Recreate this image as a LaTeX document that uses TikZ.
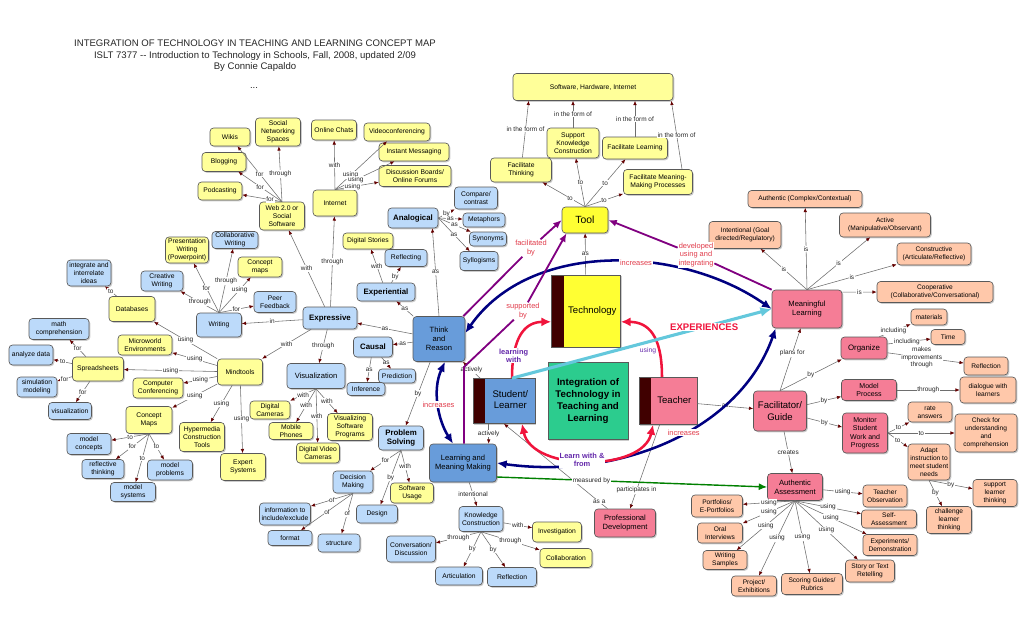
\documentclass[tikz,border=0pt]{standalone}
\usepackage{fontspec}
\setmainfont{Liberation Sans}
\usetikzlibrary{arrows.meta,positioning,shadows,calc}

\definecolor{ylwc}{RGB}{255,255,153}
\definecolor{techc}{RGB}{255,255,51}
\definecolor{bluc}{RGB}{188,218,250}
\definecolor{deepc}{RGB}{104,156,218}
\definecolor{pinkc}{RGB}{245,125,150}
\definecolor{peachc}{RGB}{255,200,170}
\definecolor{hubc}{RGB}{44,204,142}
\definecolor{barc}{RGB}{64,0,0}
\definecolor{navyc}{RGB}{0,0,128}
\definecolor{purpc}{RGB}{128,0,128}
\definecolor{redc}{RGB}{240,20,60}
\definecolor{cyanc}{RGB}{100,200,220}
\definecolor{greenl}{RGB}{0,128,0}
\definecolor{linec}{RGB}{110,110,110}
\definecolor{tipc}{RGB}{100,0,0}
\definecolor{redtxt}{RGB}{225,60,75}
\definecolor{purptxt}{RGB}{100,40,170}

\newcommand{\boxfont}{\fontsize{4.8}{5.7}\selectfont}
\newcommand{\lblfont}{\fontsize{4.6}{5.4}\selectfont}
\newcommand{\barTxt}[1]{\hspace*{9pt}\begin{tabular}{@{}c@{}}#1\end{tabular}}

\begin{document}
\begin{tikzpicture}[x=0.025cm,y=-0.025cm,>=Latex,
  sz/.style 2 args={minimum width=#1*0.025cm,minimum height=#2*0.025cm},
  shapebase/.style={draw=black!65,line width=0.45pt,inner sep=1pt,
    drop shadow={shadow xshift=0.9pt,shadow yshift=-0.9pt,opacity=0.4}},
  concept/.style={shapebase,rounded corners=2.5pt,align=center,font=\boxfont},
  yellowbox/.style={concept,fill=ylwc},
  bluebox/.style={concept,fill=bluc},
  deepbox/.style={concept,fill=deepc,font=\fontsize{5.4}{6.3}\selectfont},
  pinkbox/.style={concept,fill=pinkc,font=\fontsize{5.4}{6.3}\selectfont},
  peachbox/.style={concept,fill=peachc,font=\fontsize{4.7}{5.6}\selectfont},
  hd/.style={font=\bfseries\fontsize{5.6}{6.6}\selectfont},
  barbox/.style={shapebase,font=\fontsize{6.8}{8}\selectfont,
    path picture={\fill[barc] (path picture bounding box.south west)
      rectangle ([xshift=0.3cm]path picture bounding box.north west);}},
  titletxt/.style={align=center,font=\fontsize{6.8}{8.2}\selectfont,text=black!85},
  lnk/.style={draw=linec,line width=0.4pt,-{Latex[length=3pt,width=2.5pt,color=tipc]}},
  lbl/.style={fill=white,inner sep=0.5pt,font=\lblfont,text=black!85,align=center},
  redlbl/.style={fill=white,inner sep=0.5pt,font=\fontsize{5.3}{6}\selectfont,text=redtxt,align=center},
  purlbl/.style={fill=white,inner sep=0.5pt,font=\bfseries\fontsize{5.3}{6}\selectfont,text=purptxt,align=center},
  navyarc/.style={draw=navyc,line width=1.8pt,{Latex[length=7pt,width=6pt]}-{Latex[length=7pt,width=6pt]}},
  purpleline/.style={draw=purpc,line width=1.3pt},
  purplehead/.style={purpleline,-{Latex[length=6pt,width=5pt]}},
  redarc/.style={draw=redc,line width=1.8pt,-{Latex[length=7pt,width=6.5pt]}},
  cyanline/.style={draw=cyanc,line width=2.2pt,-{Latex[length=8pt,width=7pt]}},
  greenline/.style={draw=greenl,line width=1pt,-{Latex[length=6pt,width=5pt]}}]
  \useasboundingbox (0,0) rectangle (1024,624);

  % heading
  \node[titletxt] (title) at (255,56) {INTEGRATION OF TECHNOLOGY IN TEACHING AND LEARNING CONCEPT MAP\\ISLT 7377 -{}- Introduction to Technology in Schools, Fall, 2008, updated 2/09\\By Connie Capaldo};
  \node[titletxt] (dots) at (254,88) {...};

  % core
  \node[barbox,fill=techc,sz={69}{72}] (technology) at (586,311) {\barTxt{Technology}};
  \node[barbox,fill=deepc,sz={62}{45}] (student) at (504,401) {\barTxt{Student/\\Learner}};
  \node[barbox,fill=pinkc,sz={58}{47}] (teacher) at (668,401) {\barTxt{Teacher}};
  \node[shapebase,fill=hubc,align=center,sz={80}{77},font=\bfseries\fontsize{6.9}{8.4}\selectfont] (hub) at (588,401) {Integration of\\Technology in\\Teaching and\\Learning};
  \node[yellowbox,fill=techc,sz={46}{26},font=\fontsize{7.4}{8}\selectfont] (tool) at (585,220) {Tool};
  \node[deepbox,sz={52}{45}] (tr) at (439,339) {Think\\and\\Reason};
  \node[deepbox,sz={67}{38}] (lmm) at (463,463) {Learning and\\Meaning Making};

  % tool uses
  \node[yellowbox,sz={160}{27}] (shi) at (593,87) {Software, Hardware, Internet};
  \node[yellowbox,sz={52}{30}] (skc) at (573,143) {Support\\Knowledge\\Construction};
  \node[yellowbox,sz={65}{22}] (flearn) at (635,148) {Facilitate Learning};
  \node[yellowbox,sz={61}{24}] (fthink) at (521,170) {Facilitate\\Thinking};
  \node[yellowbox,sz={69}{25}] (fmmp) at (658,182) {Facilitate Meaning-\\Making Processes};

  % web and internet
  \node[yellowbox,sz={40}{18}] (wikis) at (230,137) {Wikis};
  \node[yellowbox,sz={45}{28}] (social) at (278,132) {Social\\Networking\\Spaces};
  \node[yellowbox,sz={44}{19}] (blogging) at (224,162) {Blogging};
  \node[yellowbox,sz={44}{18}] (podcast) at (220,191) {Podcasting};
  \node[yellowbox,sz={45}{28}] (web) at (282,216) {Web 2.0 or\\Social\\Software};
  \node[yellowbox,sz={45}{20}] (chats) at (334,130) {Online Chats};
  \node[yellowbox,sz={66}{18}] (video) at (397,132) {Videoconferencing};
  \node[yellowbox,sz={70}{18}] (instant) at (414,152) {Instant Messaging};
  \node[yellowbox,sz={72}{21}] (forums) at (415,176) {Discussion Boards/\\Online Forums};
  \node[yellowbox,sz={44}{26}] (internet) at (335,203) {Internet};

  % ways of thinking
  \node[bluebox,hd,sz={50}{20}] (analog) at (413,218) {Analogical};
  \node[bluebox,sz={43}{22}] (compare) at (476,198) {Compare/\\contrast};
  \node[bluebox,sz={42}{14}] (metaph) at (484,220) {Metaphors};
  \node[bluebox,sz={37}{14}] (synon) at (488,239) {Synonyms};
  \node[bluebox,sz={38}{19}] (syllog) at (479,261) {Syllogisms};
  \node[yellowbox,sz={50}{16}] (stories) at (368,241) {Digital Stories};
  \node[bluebox,sz={42}{17}] (reflecting) at (406,258) {Reflecting};
  \node[bluebox,hd,sz={58}{18}] (experi) at (386,292) {Experiential};
  \node[bluebox,hd,sz={39}{20}] (causal) at (373,347) {Causal};
  \node[bluebox,sz={37}{14}] (predict) at (397,376) {Prediction};
  \node[bluebox,sz={38}{13}] (infer) at (366,389) {Inference};
  \node[bluebox,hd,sz={54}{22}] (express) at (330,318) {Expressive};
  \node[bluebox,sz={58}{25},font=\fontsize{5.4}{6.3}\selectfont] (visual) at (316,376) {Visualization};
  \node[bluebox,hd,sz={45}{24}] (probsolv) at (401,438) {Problem\\Solving};

  % visualization
  \node[yellowbox,sz={40}{18}] (dcam) at (270,410) {Digital\\Cameras};
  \node[yellowbox,sz={44}{17}] (phones) at (291,431) {Mobile\\Phones};
  \node[yellowbox,sz={43}{20}] (dvcam) at (318,453) {Digital Video\\Cameras};
  \node[yellowbox,sz={45}{27}] (vissoft) at (350,427) {Visualizing\\Software\\Programs};

  % problem solving
  \node[bluebox,sz={40}{22}] (decision) at (353,482) {Decision\\Making};
  \node[yellowbox,sz={43}{20}] (usage) at (412,493) {Software\\Usage};
  \node[bluebox,sz={41}{18}] (design) at (377,514) {Design};
  \node[bluebox,sz={51}{22}] (inclexcl) at (285,514) {information to\\include/exclude};
  \node[bluebox,sz={44}{15}] (format) at (290,538) {format};
  \node[bluebox,sz={42}{18}] (structure) at (339,543) {structure};

  % knowledge construction
  \node[bluebox,sz={44}{25}] (kc) at (481,519) {Knowledge\\Construction};
  \node[yellowbox,sz={49}{20}] (invest) at (557,532) {Investigation};
  \node[yellowbox,sz={52}{19}] (collab) at (566,558) {Collaboration};
  \node[bluebox,sz={49}{26}] (convdisc) at (411,549) {Conversation/\\Discussion};
  \node[bluebox,sz={47}{18}] (artic) at (459,576) {Articulation};
  \node[bluebox,sz={49}{19}] (reflection) at (512,577) {Reflection};

  % writing and mindtools
  \node[yellowbox,sz={43}{26}] (pres) at (187,250) {Presentation\\Writing\\(Powerpoint)};
  \node[bluebox,sz={46}{17}] (collwrit) at (235,240) {Collaborative\\Writing};
  \node[yellowbox,sz={44}{20}] (cmaps) at (260,267) {Concept\\maps};
  \node[bluebox,sz={42}{20}] (creative) at (162,281) {Creative\\Writing};
  \node[bluebox,sz={42}{21}] (peer) at (275,302) {Peer\\Feedback};
  \node[bluebox,sz={45}{24}] (writing) at (219,325) {Writing};
  \node[bluebox,sz={44}{26}] (integ) at (89,273) {integrate and\\interrelate\\ideas};
  \node[yellowbox,sz={46}{25}] (databases) at (132,309) {Databases};
  \node[yellowbox,sz={54}{20}] (microworld) at (145,345) {Microworld\\Environments};
  \node[yellowbox,sz={51}{24}] (spread) at (98,369) {Spreadsheets};
  \node[yellowbox,sz={45}{26}] (mindtools) at (240,372) {Mindtools};
  \node[yellowbox,sz={50}{20}] (conf) at (158,388) {Computer\\Conferencing};
  \node[bluebox,sz={60}{21}] (math) at (59,329) {math\\comprehension};
  \node[bluebox,sz={44}{20}] (analyze) at (31,355) {analyze data};
  \node[bluebox,sz={40}{20}] (simul) at (37,387) {simulation\\modeling};
  \node[bluebox,sz={43}{17}] (visz) at (70,411) {visualization};
  \node[yellowbox,sz={46}{27}] (conmaps) at (149,420) {Concept\\Maps};
  \node[yellowbox,sz={45}{29}] (hyper) at (202,437) {Hypermedia\\Construction\\Tools};
  \node[yellowbox,sz={45}{27}] (expert) at (243,467) {Expert\\Systems};
  \node[bluebox,sz={44}{21}] (mconcepts) at (89,444) {model\\concepts};
  \node[bluebox,sz={42}{19}] (reflthink) at (103,469) {reflective\\thinking};
  \node[bluebox,sz={45}{20}] (mproblems) at (170,470) {model\\problems};
  \node[bluebox,sz={45}{19}] (msystems) at (133,492) {model\\systems};

  % meaningful learning side
  \node[pinkbox,sz={70}{38}] (ml) at (807,309) {Meaningful\\Learning};
  \node[peachbox,sz={114}{17}] (authen) at (805,199) {Authentic (Complex/Contextual)};
  \node[peachbox,sz={72}{27}] (intent) at (745,235) {Intentional (Goal\\directed/Regulatory)};
  \node[peachbox,sz={91}{24}] (active) at (885,225) {Active\\(Manipulative/Observant)};
  \node[peachbox,sz={74}{22}] (constr) at (934,254) {Constructive\\(Articulate/Reflective)};
  \node[peachbox,sz={116}{21}] (coop) at (935,292) {Cooperative\\(Collaborative/Conversational)};
  \node[pinkbox,sz={46}{22},font=\fontsize{5.6}{6.5}\selectfont] (organize) at (864,348) {Organize};
  \node[peachbox,sz={36}{16}] (materials) at (929,317) {materials};
  \node[peachbox,sz={34}{15}] (time) at (948,337) {Time};
  \node[peachbox,sz={44}{18}] (reflect2) at (986,366) {Reflection};
  \node[pinkbox,sz={55}{21},font=\fontsize{5}{6}\selectfont] (modelp) at (869,390) {Model\\Process};
  \node[peachbox,sz={56}{26}] (dialogue) at (988,390) {dialogue with\\learners};
  \node[pinkbox,sz={53}{40},font=\fontsize{6.8}{8}\selectfont] (facil) at (780,411) {Facilitator/\\Guide};
  \node[pinkbox,sz={45}{40},font=\fontsize{5}{6}\selectfont] (monitor) at (865,433) {Monitor\\Student\\Work and\\Progress};
  \node[peachbox,sz={44}{20}] (rate) at (930,412) {rate\\answers};
  \node[peachbox,sz={62}{38}] (check) at (986,433) {Check for\\understanding\\and\\comprehension};
  \node[peachbox,sz={42}{36}] (adapt) at (929,462) {Adapt\\instruction to\\meet student\\needs};
  \node[peachbox,sz={44}{27}] (support) at (995,493) {support\\learner\\thinking};
  \node[peachbox,sz={45}{27}] (challenge) at (949,520) {challenge\\learner\\thinking};

  % assessment
  \node[pinkbox,sz={55}{27}] (aa) at (795,487) {Authentic\\Assessment};
  \node[pinkbox,sz={61}{28}] (profdev) at (625,523) {Professional\\Development};
  \node[peachbox,sz={44}{22}] (tobs) at (885,496) {Teacher\\Observation};
  \node[peachbox,sz={51}{22}] (portf) at (717,506) {Portfolios/\\E-Portfolios};
  \node[peachbox,sz={55}{18}] (selfa) at (889,519) {Self-\\Assessment};
  \node[peachbox,sz={45}{20}] (oral) at (720,533) {Oral\\Interviews};
  \node[peachbox,sz={54}{21}] (exper) at (890,545) {Experiments/\\Demonstration};
  \node[peachbox,sz={44}{19}] (wsamp) at (725,560) {Writing\\Samples};
  \node[peachbox,sz={49}{22}] (story) at (870,571) {Story or Text\\Retelling};
  \node[peachbox,sz={45}{20}] (proj) at (754,586) {Project/\\Exhibitions};
  \node[peachbox,sz={61}{21}] (rubric) at (812,584) {Scoring Guides/\\Rubrics};

  % thin links
  \draw[lnk] (tool.north) -- node[lbl,pos=0.35]{to} (fthink);
  \draw[lnk] (tool.north) -- node[lbl]{to} (skc);
  \draw[lnk] (tool.north) -- node[lbl]{to} (flearn);
  \draw[lnk] (tool.north) -- node[lbl]{to} (fmmp);
  \draw[lnk] (fthink) -- node[lbl]{in the form of} ([xshift=0.4cm]shi.south west);
  \draw[lnk] (skc) -- node[lbl]{in the form of} (skc |- shi.south);
  \draw[lnk] (flearn) -- node[lbl]{in the form of} (flearn |- shi.south);
  \draw[lnk] ([xshift=0.6cm]fmmp.north) -- node[lbl]{in the form of} ([xshift=-0.05cm]shi.south east);
  \draw[lnk] (technology) -- node[lbl]{as} (tool);

  \draw[lnk] (web.north) -- node[lbl]{for} (wikis);
  \draw[lnk] (web.north) -- node[lbl]{through} (social);
  \draw[lnk] (web.north) -- node[lbl]{for} (blogging);
  \draw[lnk] (web.north) -- node[lbl,pos=0.3]{for} (podcast);
  \draw[lnk] (internet.north) -- node[lbl]{with} (chats);
  \draw[lnk] (internet.north) -- node[lbl,pos=0.3]{using} (video);
  \draw[lnk] (internet.north) -- node[lbl,pos=0.35]{using} (instant);
  \draw[lnk] (internet.north) -- node[lbl,pos=0.4]{using} (forums);

  \draw[lnk] (express) -- node[lbl]{with} (web);
  \draw[lnk] (express) -- node[lbl]{through} (internet);
  \draw[lnk] (express) -- node[lbl]{in} (writing);
  \draw[lnk] (express) -- node[lbl]{with} (mindtools);
  \draw[lnk] (express) -- node[lbl]{through} (visual);

  \draw[lnk] (writing.north) -- node[lbl]{for} (pres);
  \draw[lnk] (writing.north) -- node[lbl]{through} (creative);
  \draw[lnk] (writing.north) -- node[lbl]{through} (collwrit);
  \draw[lnk] (writing.north) -- node[lbl,pos=0.65]{using} (cmaps);
  \draw[lnk] (writing.north) -- node[lbl]{for} (peer);
  \draw[lnk] (databases) -- node[lbl]{to} (integ);

  \draw[lnk] (mindtools) -- node[lbl]{using} (databases);
  \draw[lnk] (mindtools) -- node[lbl]{using} (microworld);
  \draw[lnk] (mindtools) -- node[lbl]{using} (spread);
  \draw[lnk] (mindtools) -- node[lbl]{using} (conf);
  \draw[lnk] (mindtools) -- node[lbl]{using} (conmaps);
  \draw[lnk] (mindtools) -- node[lbl]{using} (hyper);
  \draw[lnk] (mindtools) -- node[lbl]{using} (expert);

  \draw[lnk] (spread) -- node[lbl]{for} (math);
  \draw[lnk] (spread) -- node[lbl]{to} (analyze);
  \draw[lnk] (spread) -- node[lbl]{for} (simul);
  \draw[lnk] (spread) -- node[lbl]{for} (visz);
  \draw[lnk] (conmaps.south) -- node[lbl]{to} (mconcepts);
  \draw[lnk] (conmaps.south) -- node[lbl]{for} (reflthink);
  \draw[lnk] (conmaps.south) -- node[lbl]{to} (msystems);
  \draw[lnk] (conmaps.south) -- node[lbl]{to} (mproblems);

  \draw[lnk] (visual.south) -- node[lbl]{with} (dcam);
  \draw[lnk] (visual.south) -- node[lbl]{with} (phones);
  \draw[lnk] (visual.south) -- node[lbl]{with} (dvcam);
  \draw[lnk] (visual.south) -- node[lbl]{with} (vissoft);

  \draw[lnk] (tr.north) -- node[lbl]{as} ([xshift=-0.15cm]analog.south east);
  \draw[lnk] (tr) -- node[lbl]{as} (experi);
  \draw[lnk] (tr) -- node[lbl]{as} (express);
  \draw[lnk] (tr) -- node[lbl]{as} (causal);
  \draw[lnk] (tr) -- node[lbl]{by} (probsolv);
  \draw[lnk] (analog.east) -- node[lbl]{by} (compare);
  \draw[lnk] (analog.east) -- node[lbl]{as} (metaph);
  \draw[lnk] (analog.east) -- node[lbl]{as} (synon);
  \draw[lnk] (analog.east) -- node[lbl]{as} (syllog);
  \draw[lnk] (experi) -- node[lbl]{with} (stories);
  \draw[lnk] (experi) -- node[lbl,pos=0.4]{by} (reflecting);
  \draw[lnk] (causal) -- node[lbl]{as} (predict);
  \draw[lnk] (causal) -- node[lbl]{as} (infer);

  \draw[lnk] (probsolv.south) -- node[lbl]{for} (decision);
  \draw[lnk] (probsolv.south) -- node[lbl]{by} (design);
  \draw[lnk] (probsolv.south) -- node[lbl]{with} (usage);
  \draw[lnk] (decision.south) -- node[lbl]{of} (inclexcl);
  \draw[lnk] (decision.south) -- node[lbl]{of} (format);
  \draw[lnk] (decision.south) -- node[lbl]{of} (structure);

  \draw[lnk] (lmm) -- node[lbl]{intentional} (kc);
  \draw[lnk] (kc) -- node[lbl]{with} (invest);
  \draw[lnk] (kc.south) -- node[lbl]{through} (convdisc);
  \draw[lnk] (kc.south) -- node[lbl]{by} (artic);
  \draw[lnk] (kc.south) -- node[lbl]{by} (reflection);
  \draw[lnk] (kc.south) -- node[lbl]{through} (collab);

  \coordinate (actS) at ([xshift=0.4cm]student.south west);
  \draw[lnk] (student) -- node[lbl]{actively} (tr);
  \draw[lnk] (actS) -- node[lbl]{actively} (actS |- lmm.north);

  \draw[lnk] (ml.north) -- node[lbl]{is} (authen);
  \draw[lnk] (ml.north) -- node[lbl]{is} (intent);
  \draw[lnk] (ml.north) -- node[lbl]{is} (active);
  \draw[lnk] (ml.north) -- node[lbl]{is} (constr);
  \draw[lnk] ([yshift=-0.06cm]ml.north east) -- node[lbl]{is} (coop);
  \draw[lnk] (facil.north) -- node[lbl,pos=0.6]{plans for} (ml);
  \draw[lnk] (facil.north) -- node[lbl]{by} (organize);
  \draw[lnk] (facil) -- node[lbl]{by} (modelp);
  \draw[lnk] (facil) -- node[lbl]{by} (monitor);
  \draw[lnk] (facil) -- node[lbl]{creates} (aa);
  \draw[lnk] (teacher) -- node[lbl]{as} (facil);
  \draw[lnk] ([xshift=-0.2cm]organize.north east) -- node[lbl,pos=0.45]{including} (materials);
  \draw[lnk] ([yshift=0.1cm]organize.east) -- node[lbl,pos=0.45]{including} (time);
  \draw[lnk] ([yshift=-0.12cm]organize.east) -- node[lbl,pos=0.45]{makes\\improvements\\through} (reflect2);
  \draw[lnk] (modelp) -- node[lbl]{through} (dialogue);
  \draw[lnk] (monitor.east) -- node[lbl]{to} (rate);
  \draw[lnk] (monitor.east) -- node[lbl]{to} (check);
  \draw[lnk] (monitor.east) -- node[lbl]{to} (adapt);
  \draw[lnk] (adapt.south) -- node[lbl]{by} (support);
  \draw[lnk] (adapt.south) -- node[lbl]{by} (challenge);

  \draw[lnk] (aa) -- node[lbl]{using} (tobs);
  \draw[lnk] (aa.south) -- node[lbl]{using} (portf);
  \draw[lnk] (aa.south) -- node[lbl]{using} (oral);
  \draw[lnk] (aa.south) -- node[lbl]{using} (wsamp);
  \draw[lnk] (aa.south) -- node[lbl]{using} (proj);
  \draw[lnk] (aa.south) -- node[lbl]{using} (rubric);
  \draw[lnk] (aa.south) -- node[lbl]{using} (story);
  \draw[lnk] (aa.south) -- node[lbl]{using} (exper);
  \draw[lnk] (aa.south) -- node[lbl]{using} (selfa);

  \draw[lnk] (teacher) -- node[lbl,pos=0.78]{participates in} (profdev);
  \draw[lnk] (profdev) -- node[lbl,pos=0.08]{as a} (student.south);
  \draw[greenline] ([yshift=-0.35cm]lmm.east) -- node[lbl,pos=0.35]{measured by} (aa.west);

  % thick arcs
  \draw[navyarc] ([yshift=0.15cm]tr.east) .. controls (530,240) and (680,245) .. node[redlbl,pos=0.58]{increases} (ml.west);
  \draw[navyarc] (lmm.east) .. controls (620,480) and (740,430) .. node[redlbl,pos=0.55]{increases} ([xshift=0.1cm]ml.south west);
  \draw[navyarc] ([xshift=0.15cm]tr.south) .. controls (432,390) and (438,420) .. node[redlbl]{increases} ([xshift=-0.25cm]lmm.north);

  \node[redlbl] (facby) at (531,248) {facilitated\\by};
  \node[redlbl] (supby) at (523,311) {supported\\by};
  \node[redlbl] (devby) at (696,255) {developed\\using and\\integrating};
  \coordinate (bendS) at (464,367);
  \draw[purpleline] ([xshift=-0.05cm]tr.north east) -- (facby);
  \draw[purplehead] (facby) -- (tool.west);
  \draw[purpleline] (lmm.north -| bendS) -- (bendS) -- (supby);
  \draw[purplehead] (supby) -- ([xshift=0.12cm]tool.south west);
  \draw[purpleline] (ml.north west) -- (devby);
  \draw[purplehead] (devby) -- (tool.east);

  \draw[redarc] ([xshift=0.2cm]student.north) .. controls (512,335) and (526,322) .. node[purlbl,pos=0.2]{learning\\with} ([yshift=-0.27cm]technology.west);
  \draw[redarc] ([xshift=-0.15cm]teacher.north) .. controls (662,335) and (648,322) .. node[purlbl,pos=0.25,left=1pt,fill=none,font=\fontsize{4.8}{5.5}\selectfont]{using} ([yshift=-0.27cm]technology.east);
  \draw[redarc,{Latex[length=7pt,width=6.5pt]}-{Latex[length=7pt,width=6.5pt]}] ([xshift=0.45cm]student.south) .. controls (532,472) and (643,472) .. node[purlbl,pos=0.47]{Learn with \&\\from} ([xshift=-0.375cm]teacher.south);
  \draw[cyanline] ([xshift=0.2cm]student.north) -- node[pos=0.74,fill=white,inner sep=0.5pt,text=redc,font=\bfseries\fontsize{6.8}{8}\selectfont]{EXPERIENCES} (ml.west);
\end{tikzpicture}
\end{document}
